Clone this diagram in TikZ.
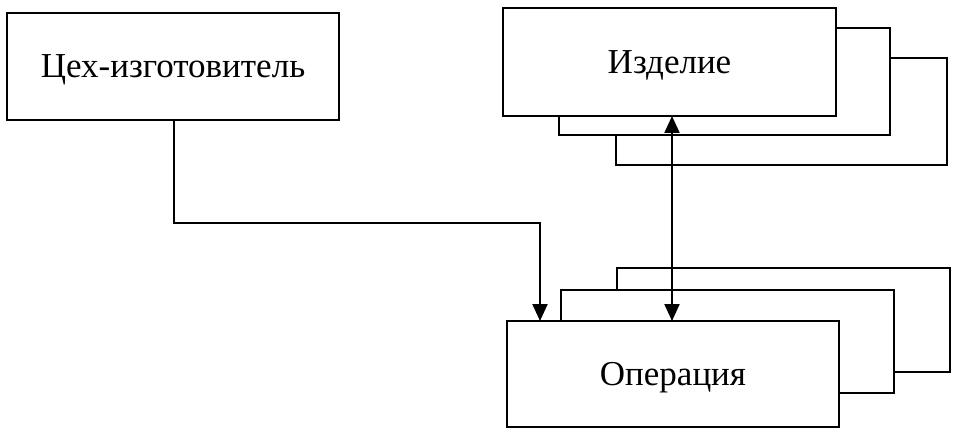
\documentclass[tikz,border=0pt]{standalone}
\usepackage{fontspec}
\setmainfont{Liberation Serif}
\usetikzlibrary{arrows.meta}
\begin{document}
\begin{tikzpicture}[x=1pt,y=-1pt,
  box/.style={draw, line width=2.2pt, fill=white, inner sep=0pt, outer sep=0pt, anchor=north west,
    font=\fontsize{35}{40}\selectfont, text height=23pt, text depth=0pt},
  conn/.style={line width=2.2pt},
  tip/.style={-{Triangle[length=17pt,width=15pt]}}]
\useasboundingbox (0,0) rectangle (958,438);
% Izdelie stack
\node[box, minimum width=331pt, minimum height=107pt] (izd3) at (616,58) {};
\node[box, minimum width=331pt, minimum height=107pt] (izd2) at (559,28) {};
\node[box, minimum width=333pt, minimum height=108pt] (izd) at (503,8) {Изделие};
% Operatsiya stack
\node[box, minimum width=333pt, minimum height=104pt] (op3) at (617,268) {};
\node[box, minimum width=333pt, minimum height=103pt] (op2) at (561,290) {};
\node[box, minimum width=332pt, minimum height=106pt] (op) at (507,321) {Операция};
% Tsekh
\node[box, minimum width=332pt, minimum height=107pt] (tsekh) at (7,13) {Цех-изготовитель};
% connectors
\coordinate (j1) at (174,223);
\coordinate (j2) at (540,223);
\coordinate (va) at (672,0);
\draw[conn, tip] (tsekh.south -| j1) -- (j1) -- (j2) -- (op.north -| j2);
\draw[conn, {Triangle[length=17pt,width=15pt]}-{Triangle[length=17pt,width=15pt]}] (izd.south -| va) -- (op.north -| va);
\end{tikzpicture}
\end{document}
